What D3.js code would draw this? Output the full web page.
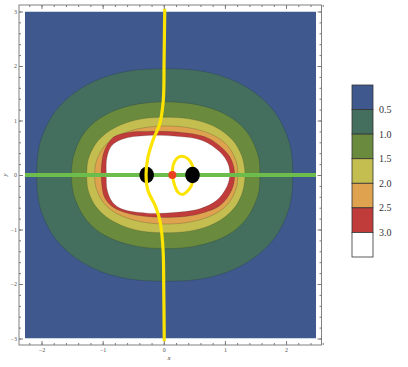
<!DOCTYPE html>
<html>
<head>
<meta charset="utf-8">
<script src="https://cdn.jsdelivr.net/npm/d3@7"></script>
<style>
  body { margin: 0; background: #fff; }
  text { font-family: "Liberation Serif", "DejaVu Serif", serif; }
</style>
</head>
<body>
<div id="chart"></div>
<script>
// contour levels shown in the legend, and band colours (lowest first)
var levels = ["0.5", "1.0", "1.5", "2.0", "2.5", "3.0"];
var bandColors = ["#3f598e", "#446e5e", "#6a8b3e", "#c3be4f", "#dfa34f", "#c03c3b", "#ffffff"];

// outer boundary of each band as [x, y]
var contour05 = [[2.11,0],[2.09,0.39],[2.03,0.68],[1.86,1.08],[1.59,1.42],[1.17,1.72],[0.65,1.90],[0.02,1.95],[-0.61,1.90],[-1.14,1.72],[-1.56,1.42],[-1.83,1.08],[-2.00,0.68],[-2.06,0.39],
  [-2.08,0],[-2.06,-0.39],[-2.00,-0.68],[-1.83,-1.08],[-1.56,-1.42],[-1.14,-1.72],[-0.61,-1.90],[0.02,-1.95],[0.65,-1.90],[1.17,-1.72],[1.59,-1.42],[1.86,-1.08],[2.03,-0.68],[2.09,-0.39]];
var contour10 = [[1.57,0],[1.56,0.27],[1.51,0.47],[1.39,0.74],[1.19,0.98],[0.88,1.18],[0.49,1.30],[0.03,1.34],[-0.43,1.30],[-0.81,1.18],[-1.12,0.98],[-1.32,0.74],[-1.44,0.47],[-1.49,0.27],
  [-1.51,0],[-1.49,-0.27],[-1.44,-0.47],[-1.32,-0.74],[-1.12,-0.99],[-0.81,-1.19],[-0.43,-1.31],[0.03,-1.35],[0.49,-1.31],[0.88,-1.19],[1.19,-0.99],[1.39,-0.74],[1.51,-0.47],[1.56,-0.27]];
var contour15 = [[1.33,0],[1.31,0.21],[1.27,0.37],[1.17,0.58],[1.00,0.77],[0.75,0.93],[0.42,1.03],[0.03,1.06],[-0.36,1.03],[-0.68,0.93],[-0.94,0.77],[-1.11,0.58],[-1.21,0.37],[-1.25,0.21],
  [-1.26,0],[-1.25,-0.21],[-1.21,-0.37],[-1.11,-0.58],[-0.94,-0.77],[-0.68,-0.93],[-0.36,-1.03],[0.03,-1.06],[0.42,-1.03],[0.75,-0.93],[1.00,-0.77],[1.17,-0.58],[1.27,-0.37],[1.31,-0.21]];
var contour20 = [[1.21,0],[1.20,0.18],[1.16,0.32],[1.07,0.50],[0.92,0.66],[0.68,0.79],[0.39,0.87],[0.04,0.90],[-0.31,0.87],[-0.60,0.79],[-0.84,0.66],[-0.99,0.50],[-1.08,0.32],[-1.12,0.18],
  [-1.13,0],[-1.12,-0.18],[-1.08,-0.32],[-0.99,-0.50],[-0.84,-0.66],[-0.60,-0.79],[-0.31,-0.87],[0.04,-0.90],[0.39,-0.87],[0.68,-0.79],[0.92,-0.66],[1.07,-0.50],[1.16,-0.32],[1.20,-0.18]];
var contour25 = [[1.16,0],[1.11,0.27],[0.97,0.48],[0.70,0.69],[0.26,0.785],[-0.28,0.80],[-0.56,0.785],[-0.83,0.69],[-0.97,0.45],[-1.02,0.17],
  [-1.02,-0.10],[-0.97,-0.41],[-0.83,-0.59],[-0.56,-0.71],[-0.18,-0.77],[0.26,-0.77],[0.59,-0.71],[0.92,-0.56],[1.11,-0.28]];
var contour30 = [[1.08,0],[1.05,0.21],[0.92,0.42],[0.64,0.63],[0.26,0.705],[-0.28,0.725],[-0.67,0.66],[-0.85,0.54],[-0.93,0.32],
  [-0.94,0],[-0.925,-0.28],[-0.835,-0.505],[-0.67,-0.63],[-0.28,-0.70],[0.26,-0.68],[0.59,-0.62],[0.86,-0.47],[1.03,-0.22]];
var contours = [contour05, contour10, contour15, contour20, contour25, contour30];

// overlaid curves and points
var yellowCurve = [[0.016,3.05],[0.005,2.10],[-0.008,1.37],[-0.065,0.945],[-0.18,0.63],[-0.26,0.32],[-0.29,0],[-0.26,-0.28],[-0.13,-0.59],[-0.054,-0.89],[-0.011,-1.39],[0,-2.12],[0.008,-3.05]];
var yellowLoop = [[0.289,0.345],[0.397,0.297],[0.468,0.174],[0.49,0.022],[0.452,-0.193],[0.370,-0.316],[0.305,-0.358],[0.233,-0.316],[0.179,-0.193],[0.142,-0.009],[0.152,0.174],[0.207,0.297]];
var blackDots = [[-0.28, 0], [0.47, 0]];
var redDots = [[0.14, 0]];

var xTicks = [-2, -1, 0, 1, 2];
var yTicks = [-3, -2, -1, 0, 1, 2, 3];

var width = 408, height = 367;
var plot = { left: 25, right: 316, top: 11.5, bottom: 338.5 };
var frame = { left: 19, right: 321.5, top: 5, bottom: 345 };

var x = d3.scaleLinear().domain([-2.27, 2.49]).range([plot.left, plot.right]);
var y = d3.scaleLinear().domain([-3, 3]).range([plot.bottom, plot.top]);

var svg = d3.select("#chart").append("svg")
    .attr("width", width)
    .attr("height", height);

svg.append("clipPath").attr("id", "clip")
  .append("rect")
    .attr("x", plot.left).attr("y", plot.top)
    .attr("width", plot.right - plot.left).attr("height", plot.bottom - plot.top);

var g = svg.append("g").attr("clip-path", "url(#clip)");

// lowest band fills the whole plot
g.append("rect")
    .attr("x", plot.left).attr("y", plot.top)
    .attr("width", plot.right - plot.left).attr("height", plot.bottom - plot.top)
    .attr("fill", bandColors[0]);

var shape = d3.line()
    .x(function(d) { return x(d[0]); })
    .y(function(d) { return y(d[1]); })
    .curve(d3.curveCatmullRomClosed.alpha(0.5));

g.selectAll(".band")
    .data(contours)
    .enter()
    .append("path")
    .attr("class", "band")
    .attr("d", shape)
    .attr("fill", function(d, i) { return bandColors[i + 1]; })
    .attr("stroke", "rgba(30,40,40,0.35)")
    .attr("stroke-width", 0.6);

// green horizontal line
g.append("line")
    .attr("x1", plot.left).attr("x2", plot.right)
    .attr("y1", y(0)).attr("y2", y(0))
    .attr("stroke", "#6cbd4c")
    .attr("stroke-width", 4);

// yellow curves
var openLine = d3.line()
    .x(function(d) { return x(d[0]); })
    .y(function(d) { return y(d[1]); })
    .curve(d3.curveCatmullRom.alpha(0.5));

svg.append("path")
    .attr("d", openLine(yellowCurve))
    .attr("fill", "none")
    .attr("stroke", "#fce300")
    .attr("stroke-width", 3.2);

g.append("path")
    .attr("d", shape(yellowLoop))
    .attr("fill", "none")
    .attr("stroke", "#fce300")
    .attr("stroke-width", 3);

// points
g.selectAll(".bdot")
    .data(blackDots)
    .enter()
    .append("ellipse")
    .attr("class", "bdot")
    .attr("cx", function(d) { return x(d[0]); })
    .attr("cy", function(d) { return y(d[1]); })
    .attr("rx", 7.3).attr("ry", 8.2)
    .attr("fill", "#000");

g.selectAll(".rdot")
    .data(redDots)
    .enter()
    .append("circle")
    .attr("class", "rdot")
    .attr("cx", function(d) { return x(d[0]); })
    .attr("cy", function(d) { return y(d[1]); })
    .attr("r", 4)
    .attr("fill", "#e8421e");

// frame with inward ticks
svg.append("rect")
    .attr("x", frame.left).attr("y", frame.top)
    .attr("width", frame.right - frame.left).attr("height", frame.bottom - frame.top)
    .attr("fill", "none")
    .attr("stroke", "#808080")
    .attr("stroke-width", 1);

var xMinor = d3.range(-2.2, 2.6, 0.2);
var yMinor = d3.range(-3, 3.1, 0.2);

function styleAxis(sel) {
    sel.select(".domain").remove();
    sel.selectAll("line").attr("stroke", "#7a7a7a");
    sel.selectAll("text").attr("fill", "#555").style("font-size", "6px");
}

svg.append("g").attr("transform", "translate(0," + frame.bottom + ")")
    .call(d3.axisBottom(x).tickValues(xMinor).tickSize(-2).tickFormat("")).call(styleAxis);
svg.append("g").attr("transform", "translate(0," + frame.bottom + ")")
    .call(d3.axisBottom(x).tickValues(xTicks).tickSize(-4).tickPadding(3).tickFormat(d3.format("d"))).call(styleAxis);
svg.append("g").attr("transform", "translate(0," + frame.top + ")")
    .call(d3.axisTop(x).tickValues(xMinor).tickSize(-2).tickFormat("")).call(styleAxis);
svg.append("g").attr("transform", "translate(0," + frame.top + ")")
    .call(d3.axisTop(x).tickValues(xTicks).tickSize(-4).tickFormat("")).call(styleAxis);

svg.append("g").attr("transform", "translate(" + frame.left + ",0)")
    .call(d3.axisLeft(y).tickValues(yMinor).tickSize(-2).tickFormat("")).call(styleAxis);
svg.append("g").attr("transform", "translate(" + frame.left + ",0)")
    .call(d3.axisLeft(y).tickValues(yTicks).tickSize(-4).tickPadding(2).tickFormat(d3.format("d"))).call(styleAxis);
svg.append("g").attr("transform", "translate(" + frame.right + ",0)")
    .call(d3.axisRight(y).tickValues(yMinor).tickSize(-2).tickFormat("")).call(styleAxis);
svg.append("g").attr("transform", "translate(" + frame.right + ",0)")
    .call(d3.axisRight(y).tickValues(yTicks).tickSize(-4).tickFormat("")).call(styleAxis);

// axis labels
svg.append("text")
    .attr("x", 169).attr("y", 360)
    .attr("text-anchor", "middle")
    .attr("fill", "#444")
    .style("font-size", "7px")
    .style("font-style", "italic")
    .text("x");
svg.append("text")
    .attr("transform", "translate(7," + y(0) + ") rotate(-90)")
    .attr("text-anchor", "middle")
    .attr("fill", "#444")
    .style("font-size", "7px")
    .style("font-style", "italic")
    .text("y");

// legend
var legendY = d3.scaleLinear().domain([0, bandColors.length]).range([85, 257]);
var legend = svg.append("g");

legend.selectAll(".cell")
    .data(bandColors)
    .enter()
    .append("rect")
    .attr("class", "cell")
    .attr("x", 352)
    .attr("y", function(d, i) { return legendY(i); })
    .attr("width", 21)
    .attr("height", function(d, i) { return legendY(i + 1) - legendY(i); })
    .attr("fill", function(d) { return d; })
    .attr("stroke", "#333")
    .attr("stroke-width", 0.8);

legend.selectAll(".lab")
    .data(levels)
    .enter()
    .append("text")
    .attr("class", "lab")
    .attr("x", 379)
    .attr("y", function(d, i) { return legendY(i + 1); })
    .attr("dy", "0.35em")
    .attr("fill", "#333")
    .style("font-size", "10px")
    .text(function(d) { return d; });
</script>
</body>
</html>
